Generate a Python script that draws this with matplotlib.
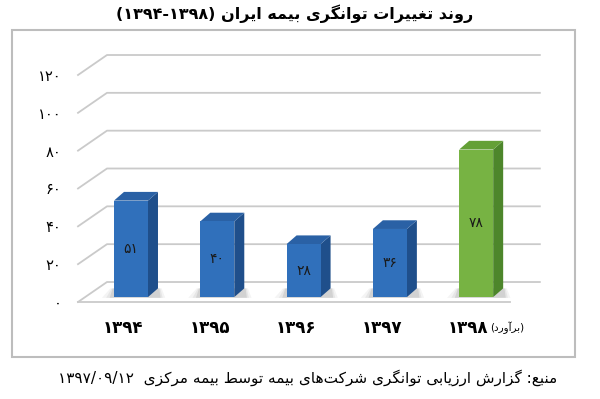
import re
import matplotlib
matplotlib.use("Agg")
import matplotlib.pyplot as plt
from matplotlib.patches import Polygon, Rectangle

# data
years = [1394, 1395, 1396, 1397, 1398]
values = [51, 40, 28, 36, 78]
bar_colors = ["blue", "blue", "blue", "blue", "green"]
yticks = [0, 20, 40, 60, 80, 100, 120]
title = "روند تغییرات توانگری بیمه ایران (۱۳۹۴-۱۳۹۸)"
estimate_note = "(برآورد)"
source = "منبع: گزارش ارزیابی توانگری شرکت\u200cهای بیمه توسط بیمه مرکزی  ۱۳۹۷/۰۹/۱۲"

# shades for front / side / top faces
palette = {
    "blue": ("#3070BB", "#1F4F8B", "#2A61A5"),
    "green": ("#77B343", "#4D862B", "#64A036"),
}

# --- minimal persian shaping + visual ordering (matplotlib does no bidi) ---
FORMS = {
    "\u0627": ("\uFE8D", "\uFE8E"), "\u0622": ("\uFE81", "\uFE82"),
    "\u062F": ("\uFEA9", "\uFEAA"), "\u0630": ("\uFEAB", "\uFEAC"),
    "\u0631": ("\uFEAD", "\uFEAE"), "\u0632": ("\uFEAF", "\uFEB0"),
    "\u0698": ("\uFB8A", "\uFB8B"), "\u0648": ("\uFEED", "\uFEEE"),
    "\u0628": ("\uFE8F", "\uFE90", "\uFE91", "\uFE92"),
    "\u067E": ("\uFB56", "\uFB57", "\uFB58", "\uFB59"),
    "\u062A": ("\uFE95", "\uFE96", "\uFE97", "\uFE98"),
    "\u062C": ("\uFE9D", "\uFE9E", "\uFE9F", "\uFEA0"),
    "\u0686": ("\uFB7A", "\uFB7B", "\uFB7C", "\uFB7D"),
    "\u062D": ("\uFEA1", "\uFEA2", "\uFEA3", "\uFEA4"),
    "\u062E": ("\uFEA5", "\uFEA6", "\uFEA7", "\uFEA8"),
    "\u0633": ("\uFEB1", "\uFEB2", "\uFEB3", "\uFEB4"),
    "\u0634": ("\uFEB5", "\uFEB6", "\uFEB7", "\uFEB8"),
    "\u0637": ("\uFEC1", "\uFEC2", "\uFEC3", "\uFEC4"),
    "\u0639": ("\uFEC9", "\uFECA", "\uFECB", "\uFECC"),
    "\u063A": ("\uFECD", "\uFECE", "\uFECF", "\uFED0"),
    "\u0641": ("\uFED1", "\uFED2", "\uFED3", "\uFED4"),
    "\u0642": ("\uFED5", "\uFED6", "\uFED7", "\uFED8"),
    "\u06A9": ("\uFB8E", "\uFB8F", "\uFB90", "\uFB91"),
    "\u06AF": ("\uFB92", "\uFB93", "\uFB94", "\uFB95"),
    "\u0644": ("\uFEDD", "\uFEDE", "\uFEDF", "\uFEE0"),
    "\u0645": ("\uFEE1", "\uFEE2", "\uFEE3", "\uFEE4"),
    "\u0646": ("\uFEE5", "\uFEE6", "\uFEE7", "\uFEE8"),
    "\u0647": ("\uFEE9", "\uFEEA", "\uFEEB", "\uFEEC"),
    "\u06CC": ("\uFBFC", "\uFBFD", "\uFBFE", "\uFBFF"),
}
MIRROR = {"(": ")", ")": "("}
NUM_RUN = r"[۰-۹0-9]+(?:[/\-.][۰-۹0-9]+)*"


def shape(s):
    out = []
    for k, ch in enumerate(s):
        f = FORMS.get(ch)
        if f is None:
            if ch != "\u200c":
                out.append(ch)
            continue
        prev = s[k - 1] if k > 0 else ""
        nxt = s[k + 1] if k + 1 < len(s) else ""
        jp = prev in FORMS and len(FORMS[prev]) == 4
        jn = len(f) == 4 and nxt in FORMS
        if jp and jn:
            out.append(f[3])
        elif jp:
            out.append(f[1])
        elif jn:
            out.append(f[2])
        else:
            out.append(f[0])
    return "".join(out)


def fa(s):
    s = shape(s)
    parts = re.split("(" + NUM_RUN + ")", s)
    vis = []
    for p in reversed(parts):
        if re.fullmatch(NUM_RUN, p):
            vis.append(p)
        else:
            vis.append("".join(MIRROR.get(c, c) for c in reversed(p)))
    return "".join(vis)


def fa_num(n):
    return str(n).translate(str.maketrans("0123456789", "۰۱۲۳۴۵۶۷۸۹"))


plt.rcParams["font.family"] = ["DejaVu Sans"]

fig = plt.figure(figsize=(6, 3.99), dpi=100)
# plot area in pixels: front floor from x=78..510, y=0 at 302px, 120 at 75px
ax = fig.add_axes([78 / 600, (399 - 302) / 399, 432 / 600, 227 / 399])
xlo, xhi = -0.614, 4.392
ax.set_xlim(xlo, xhi)
ax.set_ylim(0, 120)
for s in ax.spines.values():
    s.set_visible(False)
ax.patch.set_visible(False)

# 3d-ish depth of back wall in data units
dx, dy = 29 / 86.3, 20 / 1.892
grid_c = "#CACACA"
for v in yticks:
    ax.plot([xlo, xlo + dx, xhi + dx + 0.01], [v, v + dy, v + dy],
            color=grid_c, lw=1.3, clip_on=False, zorder=1)
ax.plot([xlo, xhi], [0, 0], color=grid_c, lw=1.3, clip_on=False, zorder=1)

# bars
w = 34 / 86.3
b0 = 2.6
ddx, ddy = 10 / 86.3, 4.6
for i, (v, c) in enumerate(zip(values, bar_colors)):
    front, side, top = palette[c]
    x0, x1 = i - w / 2, i + w / 2
    t = v + b0
    # soft shadow at the foot of the bar
    for e, a in [(0.14, 0.06), (0.09, 0.08), (0.05, 0.12)]:
        ax.add_patch(Polygon([(x0 - e, b0 - 0.4), (x1 + ddx + e * 0.6, b0 - 0.4),
                              (x1 + ddx + e * 0.3, b0 + ddy), (x0 - e * 0.3, b0 + ddy)],
                             closed=True, fc="#444444", ec="none", alpha=a,
                             clip_on=False, zorder=2))
    ax.add_patch(Polygon([(x1, b0), (x1 + ddx, b0 + ddy), (x1 + ddx, t + ddy), (x1, t)],
                         closed=True, fc=side, ec="none", clip_on=False, zorder=3))
    ax.add_patch(Polygon([(x0, t), (x1, t), (x1 + ddx, t + ddy), (x0 + ddx, t + ddy)],
                         closed=True, fc=top, ec="none", clip_on=False, zorder=3))
    ax.add_patch(Rectangle((x0, b0), w, v, fc=front, ec="none", clip_on=False, zorder=4))
    ax.text(i, b0 + v / 2, fa_num(v), ha="center", va="center", fontsize=10,
            color="#1A1A1A", zorder=5)

# axis labels
ax.set_yticks(yticks)
ax.set_yticklabels([fa_num(v) for v in yticks], fontsize=10.5)
ax.tick_params(axis="y", length=0, pad=12)
ax.set_xticks([i - 0.09 for i in range(len(years))])
ax.set_xticklabels([fa_num(y) for y in years], fontsize=12, fontweight="bold")
ax.tick_params(axis="x", length=0, pad=12)
ax.text(4.36, -13.8, fa(estimate_note), ha="center", va="center", fontsize=7.5)

# outer frame
fig.add_artist(Rectangle((12 / 600, 1 - 357 / 399), 563 / 600, 327 / 399,
                         transform=fig.transFigure, fill=False, ec="#BDBDBD", lw=1.5))

fig.text(295 / 600, 1 - 14 / 399, fa(title), ha="center", va="center",
         fontsize=11.5, fontweight="bold")
fig.text(308 / 600, 1 - 378 / 399, fa(source), ha="center", va="center", fontsize=11)

fig.savefig("out.png", dpi=100)
